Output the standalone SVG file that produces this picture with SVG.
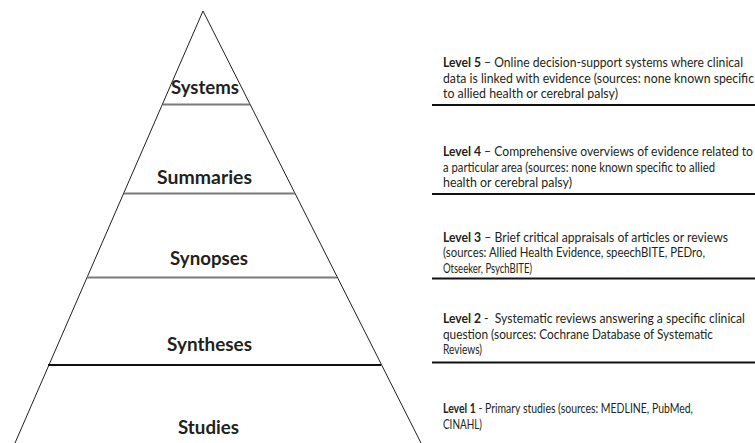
<svg xmlns="http://www.w3.org/2000/svg" width="755" height="443" viewBox="0 0 755 443">
<style>
.lbl{font-family:Lato,"Open Sans","Liberation Sans",sans-serif;font-weight:bold;font-size:19.5px;fill:#231f20;text-anchor:middle}
.desc{font-family:Lato,"Open Sans","Liberation Sans",sans-serif;font-size:13px;fill:#231f20}
.b{font-weight:bold}
.side{stroke:#231f20;stroke-width:1;fill:none}
.bar{stroke:#7a7a7a;stroke-width:2}
.rule{stroke:#111;stroke-width:2.2}
</style>
<rect width="755" height="443" fill="#fff"/>
<g id="pyramid">
<path class="side" d="M15,443 L203,11 L421,443"/>
</g>
<g id="connectors">
<line class="bar" x1="163" y1="104.5" x2="250" y2="104.5"/>
<line class="bar" x1="124" y1="193.5" x2="295" y2="193.5"/>
<line class="bar" x1="87" y1="277.5" x2="337" y2="277.5"/>
<line class="bar" x1="48" y1="365" x2="381" y2="365" style="stroke:#111"/>
<line class="rule" x1="432" y1="105" x2="755" y2="105"/>
<line class="rule" x1="432" y1="194" x2="755" y2="194"/>
<line class="rule" x1="432" y1="278.5" x2="755" y2="278.5"/>
<line class="rule" x1="432" y1="362.5" x2="755" y2="362.5"/>
</g>
<g id="systems"><text class="lbl" x="205" y="94" textLength="68" lengthAdjust="spacingAndGlyphs">Systems</text></g>
<g id="summaries"><text class="lbl" x="204.5" y="184" textLength="95" lengthAdjust="spacingAndGlyphs">Summaries</text></g>
<g id="synopses"><text class="lbl" x="209" y="265" textLength="78" lengthAdjust="spacingAndGlyphs">Synopses</text></g>
<g id="syntheses"><text class="lbl" x="209.5" y="351" textLength="85" lengthAdjust="spacingAndGlyphs">Syntheses</text></g>
<g id="studies"><text class="lbl" x="208.5" y="434" textLength="61" lengthAdjust="spacingAndGlyphs">Studies</text></g>
<g id="level5">
<text class="desc" x="443" y="67" textLength="300" lengthAdjust="spacingAndGlyphs"><tspan class="b">Level 5</tspan> – Online decision-support systems where clinical</text>
<text class="desc" x="443" y="82.5" textLength="311" lengthAdjust="spacingAndGlyphs">data is linked with evidence (sources: none known specific</text>
<text class="desc" x="443" y="98" textLength="175" lengthAdjust="spacingAndGlyphs">to allied health or cerebral palsy)</text>
</g>
<g id="level4">
<text class="desc" x="443" y="156" textLength="310" lengthAdjust="spacingAndGlyphs"><tspan class="b">Level 4</tspan> – Comprehensive overviews of evidence related to</text>
<text class="desc" x="443" y="171.5" textLength="272" lengthAdjust="spacingAndGlyphs">a particular area (sources: none known specific to allied</text>
<text class="desc" x="443" y="187" textLength="129" lengthAdjust="spacingAndGlyphs">health or cerebral palsy)</text>
</g>
<g id="level3">
<text class="desc" x="443" y="241.5" textLength="285" lengthAdjust="spacingAndGlyphs"><tspan class="b">Level 3</tspan> – Brief critical appraisals of articles or reviews</text>
<text class="desc" x="443" y="257" textLength="262" lengthAdjust="spacingAndGlyphs">(sources: Allied Health Evidence, speechBITE, PEDro,</text>
<text class="desc" x="443" y="272.5" textLength="89" lengthAdjust="spacingAndGlyphs">Otseeker, PsychBITE)</text>
</g>
<g id="level2">
<text class="desc" x="443" y="323" textLength="302" lengthAdjust="spacingAndGlyphs" xml:space="preserve"><tspan class="b">Level 2</tspan> -  Systematic reviews answering a specific clinical</text>
<text class="desc" x="443" y="338.5" textLength="270" lengthAdjust="spacingAndGlyphs">question (sources: Cochrane Database of Systematic</text>
<text class="desc" x="443" y="354" textLength="39" lengthAdjust="spacingAndGlyphs">Reviews)</text>
</g>
<g id="level1">
<text class="desc" x="443" y="413" textLength="250" lengthAdjust="spacingAndGlyphs"><tspan class="b">Level 1</tspan> - Primary studies (sources: MEDLINE, PubMed,</text>
<text class="desc" x="443" y="428.5" textLength="39" lengthAdjust="spacingAndGlyphs">CINAHL)</text>
</g>
</svg>
